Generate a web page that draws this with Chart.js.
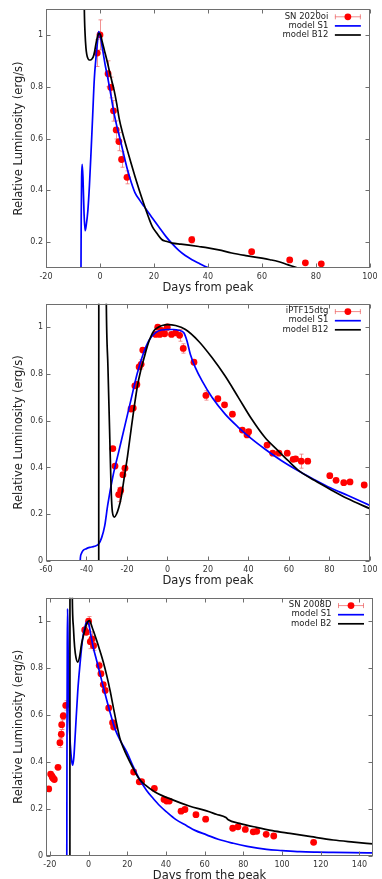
<!DOCTYPE html>
<html><head><meta charset="utf-8">
<script src="https://cdn.jsdelivr.net/npm/chart.js@4.4.0/dist/chart.umd.min.js"></script>
<style>
html,body{margin:0;padding:0;background:#fff;width:382px;height:879px;overflow:hidden;position:relative;}
canvas{position:absolute;left:0;display:block;}
</style></head><body>
<canvas id="c1" width="382" height="296" style="top:0px"></canvas>
<canvas id="c2" width="382" height="294" style="top:296px"></canvas>
<canvas id="c3" width="382" height="300" style="top:590px"></canvas>
<script>
// ---------- Panel 1: SN 2020oi ----------
const p1Days = [-1, 0, 3, 4, 5, 6, 7, 8, 10, 34, 56.2, 70.3, 76.1, 82];
const p1Lum  = [0.93, 1.0, 0.85, 0.797, 0.707, 0.633, 0.588, 0.519, 0.45, 0.209, 0.163, 0.131, 0.12, 0.116];
const p1Err  = [0.052, 0.058, 0.05, 0.04, 0.04, 0.035, 0.035, 0.03, 0.025, 0.012, 0.006, 0.005, 0.005, 0.005];
const p1S1Days = [-7.05, -6.95, -6.8, -6.6, -6.3, -5.9, -5.5, -5.1, -4.5, -3.9, -3.3, -2.7, -2.1, -1.5, -1.0, -0.5, 0, 1, 2, 2.8, 4, 5.2, 6.3, 7.4, 8.4, 10.2, 11.6, 13, 14.7, 16.4, 18, 19.4, 21.9, 24.4, 26.8, 29.2, 31.6, 34.1, 36.5, 38.6, 41];
const p1S1Lum  = [0.05, 0.3, 0.45, 0.5, 0.45, 0.31, 0.244, 0.265, 0.32, 0.42, 0.55, 0.69, 0.83, 0.91, 0.965, 1.013, 1.0, 0.942, 0.88, 0.839, 0.77, 0.698, 0.645, 0.6, 0.556, 0.479, 0.43, 0.39, 0.362, 0.337, 0.313, 0.293, 0.257, 0.222, 0.193, 0.168, 0.148, 0.132, 0.119, 0.108, 0.097];
const p1BDays = [-6.3, -5.8, -5.5, -5.2, -4.9, -4.5, -4.0, -3.5, -3.0, -2.5, -2.0, -1.5, -1.0, -0.4, 0.2, 0.8, 1.6, 2.5, 3.4, 4.3, 5.2, 6.2, 7.1, 8.4, 10, 11.5, 13, 14.5, 16, 17, 18.2, 19.4, 21, 22.9, 24.5, 26.8, 30, 33, 36.6, 40, 44, 48.8, 54, 60, 63, 66, 69.5, 73.3, 75];
const p1BLum  = [1.6, 1.1, 1.0, 0.95, 0.925, 0.91, 0.903, 0.903, 0.907, 0.915, 0.935, 0.965, 0.99, 1.006, 1.0, 0.975, 0.942, 0.905, 0.865, 0.826, 0.788, 0.735, 0.678, 0.62, 0.56, 0.505, 0.452, 0.402, 0.355, 0.325, 0.29, 0.26, 0.235, 0.21, 0.203, 0.196, 0.192, 0.188, 0.183, 0.178, 0.17, 0.158, 0.148, 0.138, 0.132, 0.125, 0.113, 0.1, 0.095];
const p1XTicks = [-20, 0, 20, 40, 60, 80, 100];
const p1YTicks = [0.2, 0.4, 0.6, 0.8, 1.0];

// ---------- Panel 2: iPTF15dtg ----------
const p2Days = [-27.0, -25.9, -24.1, -23.1, -22.0, -21.0, -18.0, -16.9, -16.1, -15.1, -14.0, -13.0, -12.2, -5.8, -4.8, -3.8, -2.9, -1.4, -0.1, 2.0, 4.0, 6.0, 7.8, 13.1, 19.0, 24.9, 28.2, 32.1, 37.0, 39.3, 40.1, 49.2, 52.0, 55.1, 59.2, 62.1, 63.3, 66.1, 69.3, 80.2, 83.3, 87.1, 90.2, 97.2];
const p2Lum  = [0.481, 0.406, 0.284, 0.302, 0.369, 0.397, 0.65, 0.654, 0.749, 0.755, 0.83, 0.841, 0.902, 0.969, 1.0, 0.969, 0.986, 0.972, 1.0, 0.969, 0.976, 0.965, 0.909, 0.85, 0.708, 0.694, 0.668, 0.628, 0.56, 0.539, 0.553, 0.496, 0.461, 0.461, 0.461, 0.435, 0.437, 0.427, 0.427, 0.365, 0.345, 0.335, 0.338, 0.325];
const p2Err  = [0.008, 0.008, 0.03, 0.015, 0.008, 0.008, 0.008, 0.008, 0.008, 0.012, 0.01, 0.02, 0.008, 0.008, 0.008, 0.008, 0.008, 0.008, 0.015, 0.008, 0.008, 0.025, 0.02, 0.008, 0.02, 0.008, 0.008, 0.008, 0.008, 0.008, 0.008, 0.008, 0.008, 0.008, 0.008, 0.008, 0.008, 0.03, 0.008, 0.008, 0.008, 0.008, 0.008, 0.008];
const p2S1Days = [-43.15, -43.0, -42.5, -41.7, -40, -38.4, -36, -34, -32.5, -31, -29.5, -27, -24, -21, -18, -15, -12, -9, -6, -3, 0, 3, 5.6, 8.1, 9.7, 11.3, 13.8, 17.1, 22, 28.5, 35, 41.6, 48.1, 56.2, 64.4, 72.6, 80.7, 88.9, 100];
const p2S1Lum  = [-0.01, 0.015, 0.032, 0.045, 0.053, 0.058, 0.063, 0.073, 0.1, 0.15, 0.24, 0.36, 0.47, 0.58, 0.69, 0.8, 0.885, 0.945, 0.976, 0.988, 0.99, 0.99, 0.987, 0.976, 0.94, 0.884, 0.827, 0.77, 0.7, 0.628, 0.572, 0.522, 0.479, 0.43, 0.387, 0.348, 0.312, 0.281, 0.238];
const p2BDays = [-33.95, -33.9, -30.6, -30.2, -29.4, -28.6, -27.8, -27.2, -26.2, -25.2, -24.0, -22.9, -21.3, -19.7, -18.0, -16.4, -14.8, -13.2, -11.5, -9.9, -8.2, -6.7, -4.5, -2.6, 0, 4, 8.9, 15.4, 22, 28.5, 35, 41.6, 48.1, 54.6, 59.5, 64.4, 72.6, 80.7, 88.9, 100];
const p2BLum  = [-0.01, 1.6, 1.6, 1.1, 0.83, 0.565, 0.3, 0.21, 0.188, 0.2, 0.23, 0.27, 0.36, 0.45, 0.56, 0.66, 0.75, 0.815, 0.87, 0.92, 0.96, 0.985, 1.0, 1.007, 1.011, 1.007, 0.99, 0.94, 0.87, 0.791, 0.7, 0.607, 0.529, 0.472, 0.43, 0.39, 0.345, 0.305, 0.267, 0.224];
const p2XTicks = [-60, -40, -20, 0, 20, 40, 60, 80, 100];
const p2YTicks = [0, 0.2, 0.4, 0.6, 0.8, 1.0];

// ---------- Panel 3: SN 2008D ----------
const p3Days = [-20.6, -19.6, -18.9, -18.6, -18.2, -17.7, -15.8, -14.8, -14.1, -13.9, -13.1, -11.8, -2.0, -1.2, 0, 0.9, 1.8, 2.6, 5.5, 6.4, 7.6, 8.6, 10.4, 12.4, 13.0, 23.3, 26.2, 27.4, 34.0, 39.0, 40.3, 41.7, 47.8, 49.8, 55.5, 60.5, 74.5, 77.2, 81.0, 85.1, 86.9, 91.8, 95.7, 116.3];
const p3Lum  = [0.285, 0.348, 0.339, 0.333, 0.329, 0.325, 0.377, 0.482, 0.518, 0.559, 0.596, 0.641, 0.963, 0.953, 1.0, 0.913, 0.925, 0.896, 0.811, 0.776, 0.73, 0.705, 0.63, 0.567, 0.549, 0.357, 0.315, 0.316, 0.287, 0.24, 0.233, 0.233, 0.19, 0.197, 0.175, 0.156, 0.117, 0.123, 0.112, 0.102, 0.104, 0.091, 0.084, 0.057];
const p3Err  = [0.008, 0.008, 0.008, 0.008, 0.008, 0.008, 0.008, 0.02, 0.02, 0.02, 0.015, 0.02, 0.015, 0.008, 0.02, 0.03, 0.03, 0.02, 0.015, 0.008, 0.008, 0.008, 0.008, 0.008, 0.008, 0.008, 0.008, 0.008, 0.008, 0.008, 0.008, 0.008, 0.008, 0.008, 0.008, 0.008, 0.008, 0.008, 0.008, 0.008, 0.008, 0.008, 0.008, 0.008];
const p3S1Days = [-11.25, -11.15, -11.0, -10.85, -10.65, -10.4, -10.0, -9.4, -8.8, -8.2, -7.6, -6.8, -5.6, -4.4, -3.5, -2.7, -1.8, -1.0, 0, 1.2, 2.4, 4.1, 5.9, 7.6, 9.4, 11.5, 13.6, 16.5, 19.7, 23.1, 26.6, 30, 33.4, 36.8, 40.3, 45, 50.7, 55, 61, 67, 74.8, 82, 92, 100, 109.2, 118, 126.4, 136, 147];
const p3S1Lum  = [-0.02, 0.5, 0.9, 1.053, 0.95, 0.75, 0.58, 0.47, 0.41, 0.386, 0.42, 0.53, 0.7, 0.819, 0.895, 0.946, 0.978, 0.996, 0.99, 0.94, 0.889, 0.835, 0.776, 0.72, 0.663, 0.6, 0.542, 0.49, 0.443, 0.38, 0.322, 0.278, 0.244, 0.213, 0.187, 0.155, 0.128, 0.108, 0.089, 0.07, 0.053, 0.04, 0.027, 0.022, 0.017, 0.015, 0.014, 0.013, 0.012];
const p3BDays = [-9.65, -9.6, -8.9, -8.4, -7.8, -7.2, -6.5, -5.6, -4.6, -3.6, -2.3, -1.0, 0.4, 2.0, 4.2, 5.9, 7.6, 9.4, 11.1, 12.8, 14.5, 16.2, 18.0, 19.7, 23.1, 26.0, 29.4, 34.3, 43.8, 52, 61, 66, 71.0, 72.2, 78, 86.8, 95, 104.1, 115, 126.5, 137, 147];
const p3BLum  = [-0.02, 1.6, 1.6, 1.1, 0.97, 0.89, 0.845, 0.826, 0.85, 0.904, 0.95, 0.989, 1.003, 0.97, 0.918, 0.873, 0.826, 0.768, 0.705, 0.633, 0.563, 0.5, 0.46, 0.428, 0.372, 0.329, 0.301, 0.272, 0.237, 0.212, 0.191, 0.177, 0.163, 0.153, 0.138, 0.121, 0.107, 0.095, 0.081, 0.067, 0.058, 0.05];
const p3XTicks = [-20, 0, 20, 40, 60, 80, 100, 120, 140];
const p3YTicks = [0, 0.2, 0.4, 0.6, 0.8, 1.0];

Chart.defaults.font.family = "'DejaVu Sans', sans-serif";

const zip = (xs, ys) => xs.map((x, i) => ({x, y: ys[i]}));
const fmt = v => String(Math.round(v * 10) / 10);

const gp = {
  id: 'gp',
  beforeDatasetsDraw(chart) {
    const {ctx, chartArea: a, scales: {x, y}} = chart;
    ctx.save();
    ctx.beginPath(); ctx.rect(a.left, a.top, a.right - a.left, a.bottom - a.top); ctx.clip();
    ctx.strokeStyle = 'rgba(238,110,110,0.75)';
    ctx.lineWidth = 1;
    chart.data.datasets.forEach(ds => {
      if (!ds.errors) return;
      ds.data.forEach((p, i) => {
        const e = ds.errors[i];
        const px = Math.round(x.getPixelForValue(p.x)) + 0.5;
        const y1 = y.getPixelForValue(p.y - e), y2 = y.getPixelForValue(p.y + e);
        ctx.beginPath();
        ctx.moveTo(px, y1); ctx.lineTo(px, y2);
        ctx.moveTo(px - 2, y1); ctx.lineTo(px + 2, y1);
        ctx.moveTo(px - 2, y2); ctx.lineTo(px + 2, y2);
        ctx.stroke();
      });
    });
    ctx.restore();
  },
  afterDraw(chart) {
    const {ctx, chartArea: a, scales: {x, y}} = chart;
    ctx.save();
    ctx.strokeStyle = '#6e6e6e';
    ctx.lineWidth = 1;
    const L = Math.round(a.left) + 0.5, R = Math.round(a.right) - 0.5;
    const T = Math.round(a.top) + 0.5, B = Math.round(a.bottom) - 0.5;
    ctx.strokeRect(L, T, R - L, B - T);
    ctx.beginPath();
    x.ticks.forEach(t => {
      const px = Math.round(x.getPixelForValue(t.value)) + 0.5;
      ctx.moveTo(px, B); ctx.lineTo(px, B - 4);
      ctx.moveTo(px, T); ctx.lineTo(px, T + 4);
    });
    y.ticks.forEach(t => {
      const py = Math.round(y.getPixelForValue(t.value)) + 0.5;
      ctx.moveTo(L, py); ctx.lineTo(L + 4, py);
      ctx.moveTo(R, py); ctx.lineTo(R - 4, py);
    });
    ctx.stroke();
    // key (top right, gnuplot style)
    ctx.font = "8.5px 'DejaVu Sans', sans-serif";
    ctx.textAlign = 'right';
    ctx.textBaseline = 'middle';
    chart.data.datasets.forEach((ds, i) => {
      const ry = a.top + 7.3 + i * 9.1;
      const x1 = a.right - 35, x2 = a.right - 9;
      ctx.fillStyle = '#222';
      ctx.fillText(ds.label, a.right - 41.5, ry);
      if (ds.errors) {
        ctx.strokeStyle = 'rgba(238,110,110,0.8)';
        ctx.beginPath();
        ctx.moveTo(x1, ry + 0.5); ctx.lineTo(x2, ry + 0.5);
        ctx.moveTo(x1 + 0.5, ry - 2); ctx.lineTo(x1 + 0.5, ry + 3);
        ctx.moveTo(x2 - 0.5, ry - 2); ctx.lineTo(x2 - 0.5, ry + 3);
        ctx.stroke();
        ctx.fillStyle = ds.backgroundColor;
        ctx.beginPath(); ctx.arc((x1 + x2) / 2, ry + 0.5, 3.4, 0, Math.PI * 2); ctx.fill();
      } else {
        ctx.strokeStyle = ds.borderColor;
        ctx.lineWidth = ds.borderWidth;
        ctx.beginPath(); ctx.moveTo(x1, ry + 0.5); ctx.lineTo(x2, ry + 0.5); ctx.stroke();
        ctx.lineWidth = 1;
      }
    });
    ctx.restore();
  }
};

function makeChart(id, cfg) {
  const datasets = [
    {label: cfg.dataLabel, data: zip(cfg.days, cfg.lum), errors: cfg.err, showLine: false,
     pointRadius: 3.4, pointHoverRadius: 3.4, backgroundColor: '#ff0000', borderColor: '#ff0000', borderWidth: 0, order: 3},
    {label: 'model S1', data: zip(cfg.s1Days, cfg.s1Lum), borderColor: '#0000ff', backgroundColor: '#0000ff',
     borderWidth: 1.7, pointRadius: 0, cubicInterpolationMode: 'monotone', order: 2},
    {label: cfg.bLabel, data: zip(cfg.bDays, cfg.bLum), borderColor: '#000000', backgroundColor: '#000000',
     borderWidth: 1.7, pointRadius: 0, cubicInterpolationMode: 'monotone', order: 1}
  ];
  return new Chart(document.getElementById(id), {
    type: 'line',
    data: {datasets},
    plugins: [gp],
    options: {
      responsive: false, animation: false, events: [],
      layout: {padding: {top: cfg.padTop, right: 9, left: 0, bottom: 0}},
      plugins: {legend: {display: false}, tooltip: {enabled: false}},
      scales: {
        x: {
          type: 'linear', min: cfg.xMin, max: cfg.xMax,
          grid: {display: false, drawTicks: false}, border: {display: false},
          afterBuildTicks: s => { s.ticks = cfg.xTicks.map(v => ({value: v})); },
          afterFit: s => { s.height = cfg.xH; },
          ticks: {padding: 4.5, color: '#333', font: {size: 8}, maxRotation: 0, autoSkip: false, callback: v => fmt(v)},
          title: {display: true, text: cfg.xTitle, color: '#222', font: {size: 11.5}, padding: {top: 0, bottom: cfg.xTitlePad}}
        },
        y: {
          type: 'linear', min: cfg.yMin, max: 1.1,
          grid: {display: false, drawTicks: false}, border: {display: false},
          afterBuildTicks: s => { s.ticks = cfg.yTicks.map(v => ({value: v})); },
          afterFit: s => { s.width = 46; },
          ticks: {padding: 3, color: '#333', font: {size: 8}, autoSkip: false, callback: v => fmt(v)},
          title: {display: true, text: 'Relative Luminosity (erg/s)', color: '#222', font: {size: 11.5}, padding: {top: 11.7, bottom: 0}}
        }
      }
    }
  });
}

makeChart('c1', {
  dataLabel: 'SN 2020oi', bLabel: 'model B12',
  days: p1Days, lum: p1Lum, err: p1Err,
  s1Days: p1S1Days, s1Lum: p1S1Lum, bDays: p1BDays, bLum: p1BLum,
  xMin: -20, xMax: 100, yMin: 0.1, xTicks: p1XTicks, yTicks: p1YTicks,
  padTop: 9, xH: 28, xTitlePad: 0.6, xTitle: 'Days from peak'
});
makeChart('c2', {
  dataLabel: 'iPTF15dtg', bLabel: 'model B12',
  days: p2Days, lum: p2Lum, err: p2Err,
  s1Days: p2S1Days, s1Lum: p2S1Lum, bDays: p2BDays, bLum: p2BLum,
  xMin: -60, xMax: 100, yMin: 0, xTicks: p2XTicks, yTicks: p2YTicks,
  padTop: 6.7, xH: 29, xTitlePad: 1.8, xTitle: 'Days from peak'
});
makeChart('c3', {
  dataLabel: 'SN 2008D', bLabel: 'model B2',
  days: p3Days, lum: p3Lum, err: p3Err,
  s1Days: p3S1Days, s1Lum: p3S1Lum, bDays: p3BDays, bLum: p3BLum,
  xMin: -22, xMax: 147, yMin: 0, xTicks: p3XTicks, yTicks: p3YTicks,
  padTop: 7.7, xH: 34.3, xTitlePad: 6.8, xTitle: 'Days from the peak'
});
</script>
</body></html>
